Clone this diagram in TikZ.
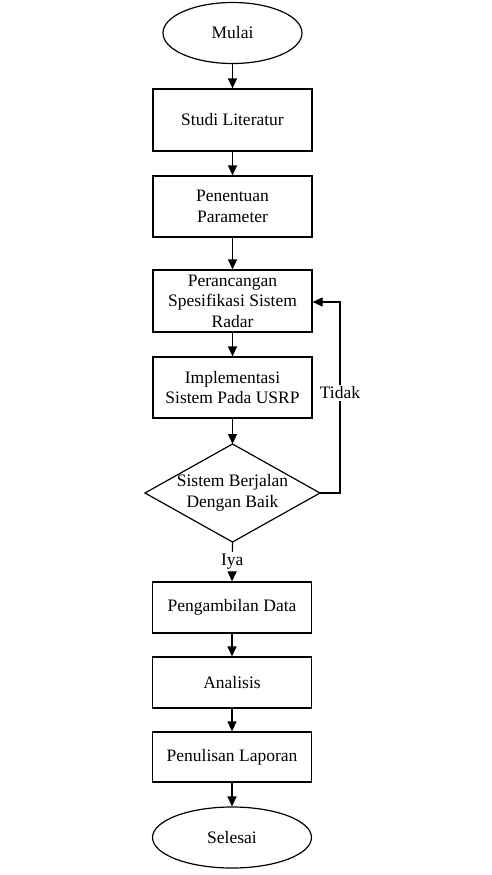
\documentclass[tikz,border=0pt]{standalone}
\usepackage{fontspec}
\setmainfont{Liberation Serif}
\usetikzlibrary{shapes.geometric,arrows.meta}
\begin{document}
\begin{tikzpicture}[x=1pt,y=-1pt,
  every node/.style={font=\fontsize{17.5}{20.5}\selectfont, align=center, inner sep=0pt},
  proc/.style={draw, line width=1.2pt, rectangle, minimum width=159pt},
  term/.style={draw, line width=1.2pt, ellipse},
  decide/.style={draw, line width=1.2pt, line join=miter},
  flow/.style={line width=1.2pt, -{Triangle[length=10pt,width=9pt]}},
  lbl/.style={fill=white, inner sep=2pt}]
\useasboundingbox[fill=white] (0,0) rectangle (492,875);
\node[term, minimum width=139pt, minimum height=61pt] (mulai) at (232.5,33) {Mulai};
\node[proc, minimum height=62pt] (studi) at (232.5,120) {Studi Literatur};
\node[proc, minimum height=61pt] (penentuan) at (232.5,206.5) {Penentuan\\Parameter};
\node[proc, minimum height=62pt] (perancangan) at (232.5,301) {Perancangan\\Spesifikasi Sistem\\Radar};
\node[proc, minimum height=61pt] (impl) at (232.5,387.5) {Implementasi\\Sistem Pada USRP};
\coordinate (cekN) at (232.5,444);
\coordinate (cekS) at (232.5,542);
\coordinate (cekW) at (145,493);
\coordinate (cekE) at (320,493);
\draw[decide] (cekN) -- (cekE) -- (cekS) -- (cekW) -- cycle;
\node (cek) at (232.5,493) {Sistem Berjalan\\Dengan Baik};
\node[proc, minimum height=51pt] (ambil) at (232,607.5) {Pengambilan Data};
\node[proc, minimum height=51pt] (analisis) at (232,682.5) {Analisis};
\node[proc, minimum height=50pt] (tulis) at (232,757) {Penulisan Laporan};
\node[term, minimum width=159pt, minimum height=61pt] (selesai) at (232,837.5) {Selesai};
\coordinate (lpb) at (340,493);
\coordinate (lpt) at (340,302);
\draw[flow] (mulai) -- (studi);
\draw[flow] (studi) -- (penentuan);
\draw[flow] (penentuan) -- (perancangan);
\draw[flow] (perancangan) -- (impl);
\draw[flow] (impl) -- (cekN);
\draw[flow] (cekE) -- (lpb) -- node[lbl, pos=0.524] {Tidak} (lpt) -- (perancangan.east |- lpt);
\draw[flow] (cekS) -- node[lbl] {Iya} (ambil.north);
\draw[flow] (ambil) -- (analisis);
\draw[flow] (analisis) -- (tulis);
\draw[flow] (tulis) -- (selesai);
\end{tikzpicture}
\end{document}
